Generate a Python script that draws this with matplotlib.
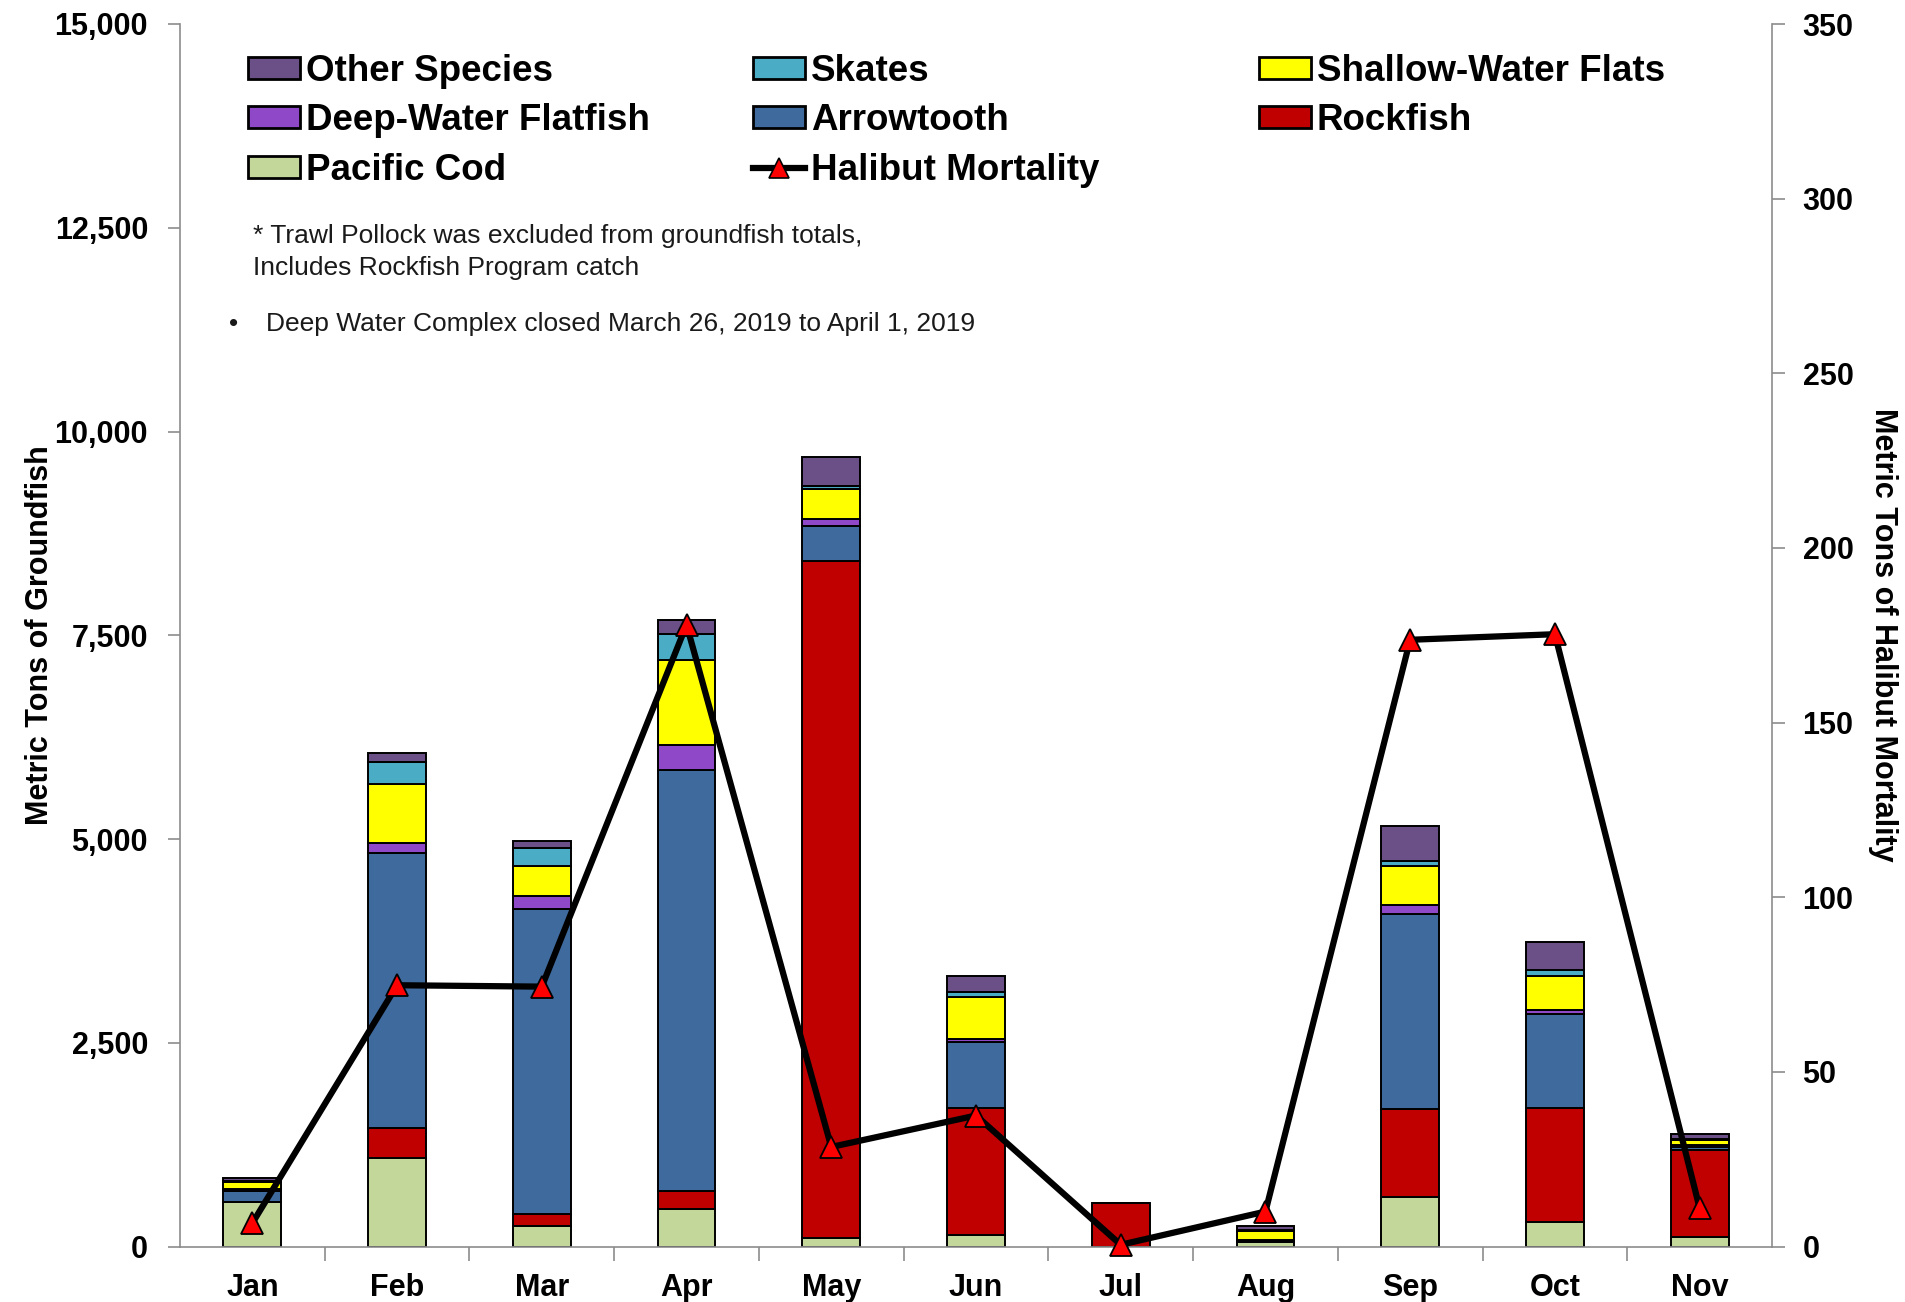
import numpy as np
import matplotlib
matplotlib.use("Agg")
import matplotlib.pyplot as plt
import matplotlib.patches as mpatches
from matplotlib.lines import Line2D

plt.rcParams['font.family'] = ['Liberation Sans', 'DejaVu Sans']

months = ['Jan', 'Feb', 'Mar', 'Apr', 'May', 'Jun', 'Jul', 'Aug', 'Sep', 'Oct', 'Nov']

# metric tons of groundfish, bottom to top of each stack
pacific_cod   = [545, 1080, 250, 460, 100, 135, 0, 50, 610, 305, 120]
rockfish      = [0, 370, 150, 220, 8310, 1560, 530, 0, 1075, 1400, 1070]
arrowtooth    = [140, 3380, 3745, 5170, 430, 810, 0, 20, 2395, 1145, 30]
deep_flatfish = [15, 115, 160, 300, 90, 40, 0, 10, 110, 55, 30]
shallow_flats = [90, 730, 365, 1050, 360, 520, 0, 110, 480, 420, 55]
skates        = [15, 265, 215, 315, 40, 60, 0, 15, 60, 70, 20]
other_species = [30, 110, 95, 175, 360, 190, 0, 50, 430, 340, 60]

# metric tons of halibut mortality (right axis)
halibut = [6.7, 74.8, 74.4, 178, 28.5, 37.5, 0.5, 10, 173.7, 175.3, 11]

series = [
    ('Pacific Cod', pacific_cod, '#C4D79B'),
    ('Rockfish', rockfish, '#C00000'),
    ('Arrowtooth', arrowtooth, '#3F6A9D'),
    ('Deep-Water Flatfish', deep_flatfish, '#8E48C8'),
    ('Shallow-Water Flats', shallow_flats, '#FFFF00'),
    ('Skates', skates, '#4BACC6'),
    ('Other Species', other_species, '#6B5088'),
]

W, H = 1905, 1302
fig = plt.figure(figsize=(W / 100, H / 100), dpi=100)
ax = fig.add_axes([180 / W, 1 - 1246.5 / H, (1772 - 180) / W, (1246.5 - 24) / H])

x = np.arange(len(months))
bottom = np.zeros(len(months))
colors = {}
for name, vals, col in series:
    ax.bar(x, vals, width=0.4, bottom=bottom, color=col, edgecolor='black', linewidth=1.4)
    bottom += np.array(vals)
    colors[name] = col

axis_gray = '#8C8C8C'
ax.set_xlim(-0.5, 10.5)
ax.set_ylim(0, 15000)
ax.set_yticks(np.arange(0, 15001, 2500))
ax.set_yticklabels([f'{v:,}' for v in range(0, 15001, 2500)])
ax.set_xticks(x)
ax.set_xticklabels(months)
ax.set_xticks(np.arange(0.5, 10, 1), minor=True)
ax.tick_params(axis='x', which='major', length=0, pad=19, labelsize=22)
ax.tick_params(axis='x', which='minor', length=10, width=1.2, color=axis_gray, direction='out')
ax.tick_params(axis='y', length=9, width=1.2, color=axis_gray, pad=14, labelsize=22)
for lab in ax.get_xticklabels() + ax.get_yticklabels():
    lab.set_fontweight('bold')
for side in ['top', 'right']:
    ax.spines[side].set_visible(False)
for side in ['left', 'bottom']:
    ax.spines[side].set_color(axis_gray)
    ax.spines[side].set_linewidth(1.2)
ax.set_ylabel('Metric Tons of Groundfish', fontsize=22, fontweight='bold', labelpad=0)

ax2 = ax.twinx()
ax2.set_ylim(0, 350)
ax2.set_yticks(np.arange(0, 351, 50))
ax2.tick_params(axis='y', length=9, width=1.2, color=axis_gray, pad=13, labelsize=22)
for lab in ax2.get_yticklabels():
    lab.set_fontweight('bold')
for side in ['top', 'left', 'bottom']:
    ax2.spines[side].set_visible(False)
ax2.spines['right'].set_color(axis_gray)
ax2.spines['right'].set_linewidth(1.2)
ax2.plot(x, halibut, color='black', linewidth=4.5, marker='^', markersize=16,
         markerfacecolor='#FF0000', markeredgecolor='black', markeredgewidth=1.3,
         clip_on=False)
ax2.set_ylabel('Metric Tons of Halibut Mortality', fontsize=22, fontweight='bold',
               rotation=-90, labelpad=32)

# legend, three columns placed separately
def patch(name):
    return mpatches.Patch(facecolor=colors[name], edgecolor='black', linewidth=2, label=name)

halibut_handle = Line2D([], [], color='black', linewidth=4.5, marker='^', markersize=15,
                        markerfacecolor='#FF0000', markeredgecolor='black',
                        markeredgewidth=1.2, label='Halibut Mortality')
columns = [
    (248, [patch('Other Species'), patch('Deep-Water Flatfish'), patch('Pacific Cod')]),
    (753, [patch('Skates'), patch('Arrowtooth'), halibut_handle]),
    (1259, [patch('Shallow-Water Flats'), patch('Rockfish')]),
]
for xpos, handles in columns:
    fig.legend(handles=handles, loc='upper left', bbox_to_anchor=(xpos / W, 1 - 54 / H),
               frameon=False, borderpad=0, borderaxespad=0, handlelength=1.4,
               handleheight=0.55, handletextpad=0.17, labelspacing=0.39,
               prop={'size': 26.5, 'weight': 'bold'})

note_color = '#1A1A1A'
fig.text(253 / W, 1 - 235.5 / H, '* Trawl Pollock was excluded from groundfish totals,',
         fontsize=19, color=note_color, va='center', ha='left')
fig.text(253 / W, 1 - 267.5 / H, 'Includes Rockfish Program catch',
         fontsize=19, color=note_color, va='center', ha='left')
fig.text(229 / W, 1 - 323.5 / H, '\u2022', fontsize=19, color=note_color, va='center', ha='left')
fig.text(266 / W, 1 - 323.5 / H, 'Deep Water Complex closed March 26, 2019 to April 1, 2019',
         fontsize=19, color=note_color, va='center', ha='left')

fig.savefig('out.png', dpi=100, facecolor='white')
